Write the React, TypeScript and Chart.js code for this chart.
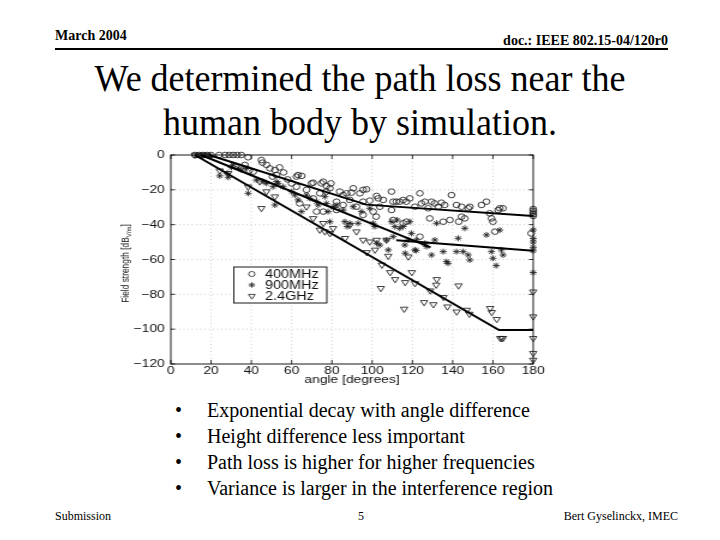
import React, { useEffect, useRef } from "react";
import { Chart, registerables } from "chart.js";
Chart.register(...registerables);

// ---- data (angle in degrees, field strength in dB V/m) ----
const angle400 = [12, 14, 16, 18, 20, 24, 27, 29, 31, 33, 35, 38.4, 36.8, 38.9, 40.9, 45, 45.5, 47.5, 49.2, 51.7, 54, 50.5, 52.5, 62.4, 63.2, 65, 60, 62.4, 67.4, 69.9, 70.7, 74.8, 75.7, 77.3, 79, 79.5, 83.9, 85.6, 87.3, 90.6, 89.7, 93.9, 95.5, 97.2, 95.5, 98.8, 102.2, 103, 105.5, 109.6, 110.4, 112, 113.7, 115.4, 117, 118.7, 121.2, 123.7, 124.5, 126.2, 127.8, 129.5, 131, 132.8, 134.4, 136, 139.4, 141.9, 144.4, 147.7, 148.5, 154.3, 156.8, 158.4, 159.3, 160, 161, 162.6, 163.4, 165, 179, 180, 180, 180, 180, 180, 102, 109.6, 110.4, 115.4, 117, 128.6, 123.7, 135.3, 138.6, 143, 144.4, 146, 88.9, 92.2, 95.5, 100.5, 103.8, 85.6, 82.3, 75.7, 72.4, 64, 70.7, 74, 77.3, 82.3, 56, 58];
const field400 = [0, 0, 0, 0, 0, 0, 0, 0, 0, 0, 0, -1.3, -5.7, -9, -9.6, -2.9, -4.4, -5.7, -7.7, -8.6, -7.1, -12.4, -11.5, -12.4, -11.5, -12, -16.3, -18.2, -20, -16.3, -15.9, -16.3, -15.3, -17.8, -19.1, -16.3, -21, -23, -22, -19.1, -21.6, -22, -20, -19.7, -26.8, -26.2, -23.5, -24.9, -25.8, -21, -26.8, -26.8, -26.8, -25.8, -26.8, -24.9, -29.7, -22, -27.8, -26.8, -30.6, -26.8, -27.8, -29.7, -27.4, -28.7, -23, -28.7, -29.7, -30.6, -29.7, -28.7, -26.8, -33.5, -36.4, -38.3, -44, -31.6, -30.6, -30.6, -45, -31, -32, -33, -34, -35, -35.4, -31.6, -37.3, -39.2, -38.3, -36.4, -46.9, -38.3, -37.3, -38.3, -35.4, -36.4, -25.8, -29.7, -34.4, -32.5, -29.7, -28.7, -31.6, -32.5, -32.5, -27.8, -24.9, -22, -21, -26.8, -10, -14];

const angle900 = [13, 15, 17, 19, 24.3, 28.5, 28, 30.1, 31, 33.5, 35.1, 37.6, 38.4, 42.5, 45.9, 47.5, 50.8, 51.7, 52.5, 53.3, 55.8, 60, 61.6, 63.2, 64.9, 67.4, 69, 72.4, 73.2, 76.5, 77.3, 78.1, 79, 80.6, 82.3, 85.6, 86.4, 87.6, 88.9, 90.6, 93, 94.7, 98.8, 100.5, 101.3, 102.2, 103.8, 107.1, 108, 109.6, 110.4, 111.3, 112.4, 113.7, 115.4, 116.2, 117.9, 118.7, 119.5, 121.2, 122, 126.2, 127, 129.5, 131.1, 132, 135.3, 136.9, 137.7, 141.9, 142.7, 145.2, 146, 147.7, 148.5, 156.8, 159.3, 160, 161.6, 163.4, 164.2, 165, 116.4, 121.8, 180, 180, 180, 180, 180, 180];
const field900 = [0, 0, 0, 0, -12, -12.8, -10.5, -7.1, -5.7, -7.5, -8.6, -7.7, -22, -14.4, -15.3, -16.3, -18.2, -28.7, -15.3, -16.3, -18.2, -21, -23, -25.8, -32.5, -23, -24.9, -26.8, -28.7, -23.9, -27.8, -32.5, -38.3, -29.7, -28.7, -31.6, -38.3, -41.1, -39.2, -29.7, -39.2, -32.5, -30.6, -39.2, -41.1, -50.7, -51.7, -48.8, -54.5, -38.3, -46.9, -41.1, -37.3, -42.1, -41.1, -51.7, -48.8, -38.3, -45, -54.5, -48.8, -50.7, -52.6, -57.4, -48.8, -39.2, -55.5, -61.2, -62.2, -55.5, -47.8, -55.5, -42.1, -57.4, -60.3, -45.9, -55.5, -59.3, -63.5, -43.1, -54.5, -57.4, -56.4, -54.9, -43, -48, -50, -53, -55, -67.5];

const angle24 = [12, 16, 24.3, 28.5, 38.4, 44.2, 45, 47.5, 51.7, 67.4, 70.7, 74, 75.7, 76.5, 79, 80.6, 86.5, 89, 92.2, 95.5, 97.3, 98.8, 101.4, 102.2, 104.8, 104.3, 107.1, 108, 108.9, 111.4, 115.9, 116.4, 118, 119.7, 121.3, 125.8, 128.8, 130.4, 131.8, 132.1, 135.4, 137.4, 142, 142.9, 147, 148.3, 158.6, 159.4, 161.9, 163.6, 164.3, 165, 180, 180, 180, 180, 180];
const field24 = [0, 0, -9, -10.5, -18.2, -15.3, -30.6, -21, -23.9, -29.7, -36.4, -43, -39.2, -44, -45, -42.1, -47.8, -40.2, -44, -48.8, -55.9, -49.8, -54.5, -48.8, -63.1, -76.5, -48.8, -58, -67.4, -71.4, -88.4, -73.1, -58.4, -67.4, -73.7, -84.6, -77.9, -85.8, -74.6, -71.4, -81.7, -87.1, -90, -75, -89, -91.3, -88, -90.3, -94.3, -105.2, -105.2, -105.2, -78.5, -92.8, -105.2, -113.8, -117.7];

// fitted path-loss lines
const fitAngle400 = [19, 97, 180];
const fitField400 = [0, -28.5, -35];
const fitAngle900a = [15, 129];
const fitField900a = [0, -53];
const fitAngle900b = [112, 180];
const fitField900b = [-49, -55];
const fitAngle24 = [12, 163, 180];
const fitField24 = [0, -100.5, -100.5];

const seriesLabels = ["400MHz", "900MHz", "2.4GHz"];
const xTickStep = 20;
const yTickStep = 20;
const xRange = [0, 180];
const yRange = [-120, 0];

const bullets = [
  "Exponential decay with angle difference",
  "Height difference less important",
  "Path loss is higher for higher frequencies",
  "Variance is larger in the interference region",
];

const pts = (xs: number[], ys: number[]) => xs.map((x, i) => ({ x, y: ys[i] }));

const MARK = "#1e1e1e";

function drawMarker(ctx: CanvasRenderingContext2D, kind: number, x: number, y: number) {
  ctx.save();
  ctx.strokeStyle = MARK;
  ctx.lineWidth = 0.8;
  ctx.beginPath();
  if (kind === 0) {
    ctx.arc(x, y, 2.6, 0, Math.PI * 2);
  } else if (kind === 1) {
    const r = 2.8;
    for (let k = 0; k < 4; k++) {
      const a = (k * Math.PI) / 4;
      ctx.moveTo(x - r * Math.cos(a), y - r * Math.sin(a));
      ctx.lineTo(x + r * Math.cos(a), y + r * Math.sin(a));
    }
  } else {
    const r = 3.2;
    ctx.moveTo(x - r * 0.866, y - r * 0.5);
    ctx.lineTo(x + r * 0.866, y - r * 0.5);
    ctx.lineTo(x, y + r);
    ctx.closePath();
  }
  ctx.stroke();
  ctx.restore();
}

const framePlugin = {
  id: "matlabFrame",
  beforeDatasetsDraw(chart: any) {
    const { ctx, chartArea } = chart;
    const { left, right, top, bottom } = chartArea;
    const xs = chart.scales.x;
    const ys = chart.scales.y;
    ctx.save();
    // dotted grid
    ctx.strokeStyle = "#b8b8b8";
    ctx.lineWidth = 0.7;
    ctx.setLineDash([1, 2.5]);
    for (let v = xRange[0] + xTickStep; v < xRange[1]; v += xTickStep) {
      const px = xs.getPixelForValue(v);
      ctx.beginPath();
      ctx.moveTo(px, top);
      ctx.lineTo(px, bottom);
      ctx.stroke();
    }
    for (let v = yRange[0] + yTickStep; v < yRange[1]; v += yTickStep) {
      const py = ys.getPixelForValue(v);
      ctx.beginPath();
      ctx.moveTo(left, py);
      ctx.lineTo(right, py);
      ctx.stroke();
    }
    ctx.setLineDash([]);
    // box
    ctx.strokeStyle = "#000";
    ctx.lineWidth = 0.9;
    ctx.strokeRect(left, top, right - left, bottom - top);
    // inward ticks
    ctx.lineWidth = 0.8;
    ctx.beginPath();
    for (let v = xRange[0]; v <= xRange[1]; v += xTickStep) {
      const px = xs.getPixelForValue(v);
      ctx.moveTo(px, bottom);
      ctx.lineTo(px, bottom - 4);
      ctx.moveTo(px, top);
      ctx.lineTo(px, top + 4);
    }
    for (let v = yRange[0]; v <= yRange[1]; v += yTickStep) {
      const py = ys.getPixelForValue(v);
      ctx.moveTo(left, py);
      ctx.lineTo(left + 3.5, py);
      ctx.moveTo(right, py);
      ctx.lineTo(right - 3.5, py);
    }
    ctx.stroke();
    ctx.restore();
  },
  afterDatasetsDraw(chart: any) {
    const { ctx, chartArea } = chart;
    const { left, right, top, bottom } = chartArea;
    ctx.save();
    // legend box
    const lx = left + 52.5;
    const ly = top + 112;
    const lw = 77.5;
    const lh = 36;
    ctx.fillStyle = "#fff";
    ctx.fillRect(lx, ly, lw, lh);
    ctx.strokeStyle = "#000";
    ctx.lineWidth = 0.9;
    ctx.strokeRect(lx, ly, lw, lh);
    ctx.font = '12px "Liberation Sans", Arial, sans-serif';
    ctx.fillStyle = "#111";
    ctx.textBaseline = "middle";
    ctx.textAlign = "left";
    seriesLabels.forEach((lab, i) => {
      const yy = ly + 7 + i * 11;
      drawMarker(ctx, i, lx + 15, yy);
      ctx.fillText(lab, lx + 26, yy + 0.5);
    });
    // x axis title
    ctx.font = '11.5px "Liberation Sans", Arial, sans-serif';
    ctx.textAlign = "center";
    ctx.textBaseline = "middle";
    ctx.fillText("angle [degrees]", (left + right) / 2, bottom + 15.5);
    // y axis title with subscript
    const main = "Field strength [dB";
    const sub = "V/m";
    const close = "]";
    ctx.font = '8.4px "Liberation Sans", Arial, sans-serif';
    const w1 = ctx.measureText(main).width;
    const w3 = ctx.measureText(close).width;
    ctx.font = '6px "Liberation Sans", Arial, sans-serif';
    const w2 = ctx.measureText(sub).width;
    const total = w1 + w2 + w3;
    ctx.translate(21, (top + bottom) / 2 + 4);
    ctx.rotate(-Math.PI / 2);
    ctx.textAlign = "left";
    ctx.textBaseline = "alphabetic";
    let cx = -total / 2;
    ctx.font = '8.4px "Liberation Sans", Arial, sans-serif';
    ctx.fillText(main, cx, 2.5);
    cx += w1;
    ctx.font = '6px "Liberation Sans", Arial, sans-serif';
    ctx.fillText(sub, cx, 5);
    cx += w2;
    ctx.font = '8.4px "Liberation Sans", Arial, sans-serif';
    ctx.fillText(close, cx, 2.5);
    ctx.restore();
  },
};

function PathLossChart() {
  const ref = useRef<HTMLCanvasElement>(null);
  useEffect(() => {
    if (!ref.current) return;
    const lineStyle = {
      showLine: true,
      pointRadius: 0,
      borderColor: "#000",
      borderWidth: 2,
      fill: false,
      clip: false as any,
    };
    const markStyle = {
      showLine: false,
      borderColor: MARK,
      backgroundColor: "rgba(0,0,0,0)",
      borderWidth: 0.85,
      clip: false as any,
    };
    const chart = new Chart(ref.current, {
      type: "scatter",
      data: {
        datasets: [
          { label: "fit400", data: pts(fitAngle400, fitField400), ...lineStyle },
          { label: "fit900a", data: pts(fitAngle900a, fitField900a), ...lineStyle },
          { label: "fit900b", data: pts(fitAngle900b, fitField900b), ...lineStyle },
          { label: "fit24", data: pts(fitAngle24, fitField24), ...lineStyle },
          { label: seriesLabels[0], data: pts(angle400, field400), pointStyle: "circle", pointRadius: 2.8, ...markStyle },
          { label: seriesLabels[1], data: pts(angle900, field900), pointStyle: "star", pointRadius: 3, ...markStyle },
          { label: seriesLabels[2], data: pts(angle24, field24), pointStyle: "triangle", pointRadius: 3.5, rotation: 180, ...markStyle },
        ] as any,
      },
      options: {
        responsive: false,
        animation: false,
        events: [],
        layout: { padding: { left: 0, right: 14, top: 15, bottom: 0 } },
        plugins: { legend: { display: false }, tooltip: { enabled: false } },
        scales: {
          x: {
            type: "linear",
            min: xRange[0],
            max: xRange[1],
            afterFit: (s: any) => {
              s.height = 26;
            },
            grid: { display: false, drawTicks: false },
            border: { display: false },
            ticks: {
              stepSize: xTickStep,
              padding: 0,
              color: "#111",
              font: { family: '"Liberation Sans", Arial, sans-serif', size: 11.5 },
              maxRotation: 0,
            },
          },
          y: {
            type: "linear",
            min: yRange[0],
            max: yRange[1],
            afterFit: (s: any) => {
              s.width = 59;
            },
            grid: { display: false, drawTicks: false },
            border: { display: false },
            ticks: {
              stepSize: yTickStep,
              padding: 5,
              color: "#111",
              font: { family: '"Liberation Sans", Arial, sans-serif', size: 11.5 },
              callback: (v: any) => (Number(v) < 0 ? "\u2212" + Math.abs(Number(v)) : String(v)),
            },
          },
        },
      },
      plugins: [framePlugin],
    });
    return () => chart.destroy();
  }, []);
  return (
    <canvas
      ref={ref}
      width={375}
      height={250}
      style={{ position: "absolute", left: 100, top: 140, width: 450, height: 250 }}
    />
  );
}

export default function App() {
  const serif = '"Liberation Serif", "Times New Roman", serif';
  return (
    <div
      style={{
        position: "absolute",
        left: 0,
        top: 0,
        width: 720,
        height: 540,
        background: "#fff",
        color: "#000",
        fontFamily: serif,
        overflow: "hidden",
      }}
    >
      <div style={{ position: "absolute", left: 55, top: 29, fontSize: 14, lineHeight: "14px", fontWeight: "bold" }}>
        March 2004
      </div>
      <div style={{ position: "absolute", right: 52, top: 34, fontSize: 14, lineHeight: "14px", fontWeight: "bold" }}>
        doc.: IEEE 802.15-04/120r0
      </div>
      <div style={{ position: "absolute", left: 55, top: 48, width: 613, height: 2, background: "#000" }} />
      <div
        style={{
          position: "absolute",
          left: 0,
          top: 56,
          width: 720,
          textAlign: "center",
          fontSize: 36,
          lineHeight: "42px",
          transform: "scaleY(1.06)",
          transformOrigin: "50% 0",
        }}
      >
        We determined the path loss near the
        <br />
        human body by simulation.
      </div>
      <PathLossChart />
      {bullets.map((b, i) => (
        <React.Fragment key={i}>
          <div style={{ position: "absolute", left: 175, top: 397 + i * 26, fontSize: 20, lineHeight: "26px" }}>•</div>
          <div style={{ position: "absolute", left: 207, top: 397 + i * 26, fontSize: 20, lineHeight: "26px", whiteSpace: "nowrap" }}>
            {b}
          </div>
        </React.Fragment>
      ))}
      <div style={{ position: "absolute", left: 55, top: 510, fontSize: 12, lineHeight: "12px" }}>Submission</div>
      <div style={{ position: "absolute", left: 358, top: 510, fontSize: 12, lineHeight: "12px" }}>5</div>
      <div style={{ position: "absolute", right: 42, top: 510, fontSize: 12, lineHeight: "12px" }}>Bert Gyselinckx, IMEC</div>
    </div>
  );
}
